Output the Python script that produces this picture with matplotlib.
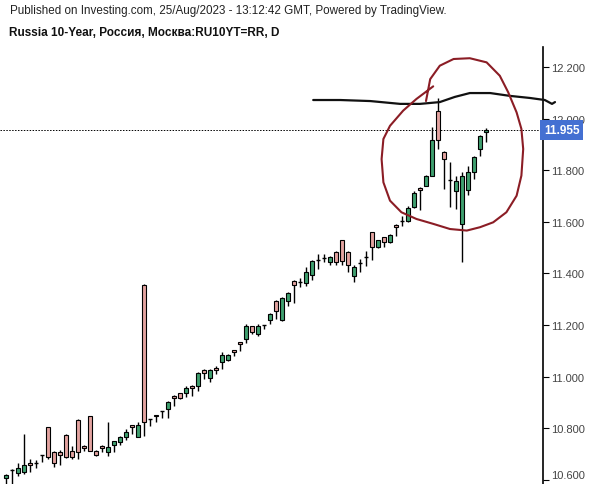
import matplotlib
matplotlib.use("Agg")
import matplotlib.pyplot as plt

plt.rcParams['font.family'] = ['Liberation Sans', 'DejaVu Sans']

# daily candles, Russia 10Y yield
opens = [10.607, 10.638, 10.627, 10.631, 10.665, 10.663, 10.696, 10.805, 10.708, 10.708,
         10.774, 10.712, 10.832, 10.731, 10.847, 10.712, 10.731, 10.708, 10.735, 10.747,
         10.766, 10.812, 10.766, 11.355, 10.834, 10.851, 10.866, 10.874, 10.925, 10.936,
         10.936, 10.964, 10.964, 11.026, 10.994, 11.033, 11.057, 11.064, 11.103, 11.134,
         11.146, 11.196, 11.165, 11.199, 11.219, 11.293, 11.219, 11.293, 11.371, 11.365,
         11.363, 11.394, 11.450, 11.458, 11.444, 11.483, 11.529, 11.483, 11.390, 11.438,
         11.462, 11.560, 11.502, 11.541, 11.522, 11.588, 11.601, 11.603, 11.657, 11.731,
         11.739, 11.778, 12.029, 11.871, 11.762, 11.719, 11.591, 11.723, 11.793, 11.882,
         11.948]
highs = [10.623, 10.642, 10.665, 10.778, 10.681, 10.677, 10.697, 10.806, 10.712, 10.716,
         10.776, 10.731, 10.834, 10.733, 10.849, 10.714, 10.733, 10.824, 10.752, 10.768,
         10.797, 10.814, 10.824, 11.357, 10.837, 10.853, 10.868, 10.904, 10.927, 10.938,
         10.964, 10.966, 11.016, 11.029, 11.028, 11.041, 11.095, 11.088, 11.105, 11.136,
         11.204, 11.198, 11.204, 11.201, 11.245, 11.295, 11.307, 11.326, 11.373, 11.382,
         11.425, 11.450, 11.475, 11.475, 11.466, 11.485, 11.531, 11.485, 11.433, 11.456,
         11.487, 11.562, 11.531, 11.543, 11.551, 11.590, 11.622, 11.661, 11.719, 11.733,
         11.780, 11.967, 12.080, 11.873, 11.832, 11.778, 11.793, 11.816, 11.855, 11.935,
         11.964]
lows = [10.584, 10.584, 10.615, 10.623, 10.631, 10.646, 10.669, 10.681, 10.650, 10.657,
        10.686, 10.681, 10.681, 10.712, 10.710, 10.694, 10.708, 10.692, 10.708, 10.735,
        10.754, 10.778, 10.764, 10.770, 10.809, 10.824, 10.840, 10.840, 10.886, 10.913,
        10.921, 10.925, 10.944, 10.991, 10.979, 11.010, 11.029, 11.060, 11.080, 11.099,
        11.130, 11.165, 11.157, 11.184, 11.204, 11.223, 11.217, 11.274, 11.285, 11.347,
        11.351, 11.374, 11.417, 11.444, 11.433, 11.433, 11.433, 11.405, 11.367, 11.405,
        11.429, 11.452, 11.498, 11.502, 11.518, 11.545, 11.584, 11.599, 11.653, 11.646,
        11.737, 11.776, 11.882, 11.727, 11.657, 11.650, 11.444, 11.704, 11.766, 11.855,
        11.909]
closes = [10.619, 10.640, 10.646, 10.657, 10.657, 10.665, 10.695, 10.688, 10.665, 10.696,
          10.688, 10.688, 10.708, 10.723, 10.712, 10.696, 10.723, 10.727, 10.750, 10.766,
          10.785, 10.805, 10.812, 10.824, 10.836, 10.847, 10.867, 10.902, 10.917, 10.917,
          10.956, 10.956, 11.014, 11.014, 11.026, 11.026, 11.084, 11.084, 11.095, 11.126,
          11.196, 11.173, 11.196, 11.200, 11.243, 11.254, 11.305, 11.324, 11.355, 11.367,
          11.405, 11.448, 11.452, 11.460, 11.464, 11.444, 11.448, 11.433, 11.425, 11.440,
          11.464, 11.502, 11.529, 11.522, 11.549, 11.580, 11.603, 11.653, 11.712, 11.723,
          11.778, 11.917, 11.917, 11.843, 11.764, 11.758, 11.778, 11.793, 11.851, 11.933,
          11.955]

last_price = 11.955
y_ticks = [10.6, 10.8, 11.0, 11.2, 11.4, 11.6, 11.8, 12.0, 12.2]

# hand-drawn marks on the published picture
pen_x = [51.2, 55.7, 60.7, 65.7, 69.0, 72.3, 74.8, 77.3, 80.7, 84.0, 87.3, 89.8, 91.0, 91.5]
pen_y = [12.072, 12.072, 12.068, 12.057, 12.057, 12.064, 12.084, 12.099, 12.099, 12.088,
         12.080, 12.072, 12.057, 12.064]
ring_x = [71.2, 68.4, 66.2, 64.0, 62.9, 62.6, 62.9, 64.0, 65.9, 68.4, 71.2, 74.0, 76.8,
          79.0, 81.2, 83.4, 85.1, 85.9, 86.2, 85.9, 85.1, 83.7, 82.3, 80.1, 77.3, 74.6,
          72.3, 70.7, 70.0]
ring_y = [12.125, 12.076, 12.031, 11.972, 11.921, 11.843, 11.753, 11.682, 11.637, 11.611,
          11.592, 11.572, 11.566, 11.579, 11.598, 11.637, 11.701, 11.779, 11.882, 11.960,
          12.024, 12.102, 12.166, 12.218, 12.234, 12.231, 12.205, 12.153, 12.068]

up_col = '#3f9f6f'
down_col = '#e3a3a0'

fig = plt.figure(figsize=(5.93, 4.85), dpi=100)
ax = fig.add_axes([0, 0, 543 / 593, 437 / 485])

xs = list(range(len(opens)))
for i in xs:
    o, h, l, c = opens[i], highs[i], lows[i], closes[i]
    ax.vlines(i, l, h, color='black', linewidth=1, zorder=2)
    col = up_col if c >= o else down_col
    if abs(c - o) < 0.004:
        ax.hlines((o + c) / 2, i - 0.38, i + 0.38, color='black', linewidth=1, zorder=3)
    else:
        ax.bar(i, abs(c - o), bottom=min(o, c), width=0.76, color=col,
               edgecolor='black', linewidth=0.8, zorder=3)

ax.axhline(last_price, color='black', linestyle=(0, (1.5, 1.5)), linewidth=0.7, zorder=1)

ax.plot(pen_x, pen_y, color='#111111', linewidth=1.6, clip_on=False, zorder=5,
        solid_capstyle='round')
ax.plot(ring_x, ring_y, color='#8b1d25', linewidth=1.5, clip_on=False, zorder=5,
        solid_capstyle='round')

ax.set_xlim(-1, 89.5)
ax.set_ylim(10.5837, 12.2775)

for s in ['left', 'top', 'bottom']:
    ax.spines[s].set_visible(False)
ax.spines['right'].set_linewidth(1.2)
ax.set_xticks([])
ax.yaxis.tick_right()
ax.set_yticks(y_ticks)
ax.set_yticklabels([f'{v:.3f}' for v in y_ticks])
ax.tick_params(axis='y', direction='out', length=4, width=0.8, colors='black',
               labelcolor='#444444', labelsize=8, pad=2)
# the lowest label sits at the bottom edge, as in the original
ax.get_yticklabels()[0].set_va('bottom')

ax.text(1.002, last_price, f'{last_price:.3f}', transform=ax.get_yaxis_transform(),
        ha='left', va='center', color='white', fontsize=8.5, fontweight='bold',
        bbox=dict(boxstyle='square,pad=0.32', facecolor='#4470d2', edgecolor='none'),
        zorder=6, clip_on=False)

fig.text(10 / 593, 1 - 11 / 485, 'Published on Investing.com, 25/Aug/2023 - 13:12:42 GMT, Powered by TradingView.',
         ha='left', va='center', fontsize=8.4, color='#222222')
fig.text(9 / 593, 1 - 33 / 485, 'Russia 10-Year, Россия, Москва:RU10YT=RR, D',
         ha='left', va='center', fontsize=8.5, fontweight='bold', color='#111111')

fig.savefig('out.png', dpi=100, facecolor='white')
